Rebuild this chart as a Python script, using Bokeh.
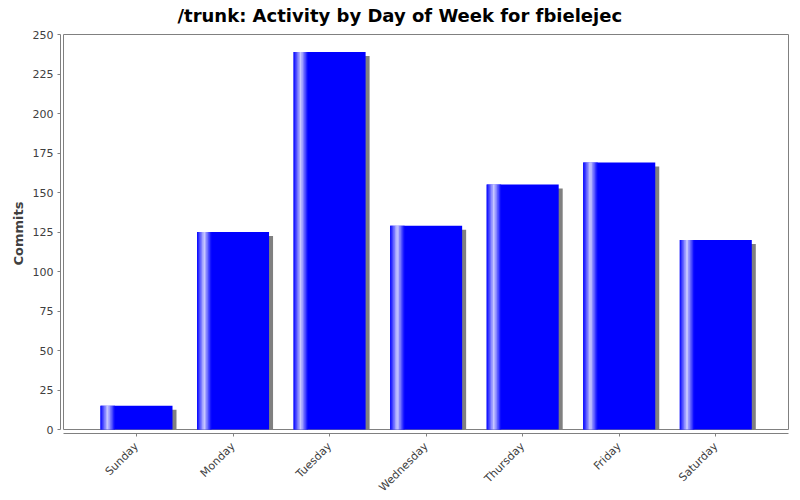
import numpy as np
from bokeh.plotting import figure
from bokeh.models import Range1d, FixedTicker, ColumnDataSource, Title
from bokeh.embed import file_html
from bokeh.resources import INLINE

# ---- data ----
days = ["Sunday", "Monday", "Tuesday", "Wednesday", "Thursday", "Friday", "Saturday"]
commits = [15, 125, 239, 129, 155, 169, 120]
y_ticks = [0, 25, 50, 75, 100, 125, 150, 175, 200, 225, 250]
title_text = "/trunk: Activity by Day of Week for fbielejec"
y_label = "Commits"

# ---- layout (pixels) ----
B_LEFT, B_RIGHT, B_TOP, B_BOTTOM = 60, 3, 33, 58
FRAME_W, FRAME_H = 729, 400
PX_PER_CAT = 96.55
PX_PER_UNIT = 1.58
X_START = -76 / PX_PER_CAT
X_END = X_START + FRAME_W / PX_PER_CAT
Y_START = -4 / PX_PER_UNIT
Y_END = Y_START + FRAME_H / PX_PER_UNIT
INNER_L = X_START + 3 / PX_PER_CAT
INNER_R = X_START + (FRAME_W - 1) / PX_PER_CAT
BAR_W = 72 / PX_PER_CAT
SHADOW_DX = 4 / PX_PER_CAT
SHADOW_DY = 4 / PX_PER_UNIT

GRAY = "#808080"
TEXT = "#404040"
BLUE = "#0000ff"

x = np.arange(len(days), dtype=float)
vals = np.array(commits, dtype=float)

p = figure(frame_width=FRAME_W, frame_height=FRAME_H,
           output_backend="svg", toolbar_location=None,
           x_range=Range1d(X_START, X_END), y_range=Range1d(Y_START, Y_END),
           min_border_left=B_LEFT, min_border_right=B_RIGHT,
           min_border_top=B_TOP, min_border_bottom=B_BOTTOM)
p.outline_line_color = None
p.background_fill_color = "white"
p.border_fill_color = "white"
p.xgrid.visible = False
p.ygrid.visible = False

# spacer between frame and title, then the title itself
spacer = Title(text=" ", text_font_size="6px", standoff=0)
p.add_layout(spacer, "above")
main_title = Title(text=title_text, text_font="DejaVu Sans", text_font_size="18px",
                   text_font_style="bold", text_color="black", align="left",
                   offset=117, standoff=0)
p.add_layout(main_title, "above")

# inner plot outline
p.quad(left=[INNER_L], right=[INNER_R], bottom=[0], top=[y_ticks[-1]],
       fill_color=None, line_color=GRAY, line_width=1)

# shadows
p.quad(left=x - BAR_W / 2 + SHADOW_DX, right=x + BAR_W / 2 + SHADOW_DX,
       bottom=0, top=np.maximum(vals - SHADOW_DY, 0),
       fill_color=GRAY, line_color=None)

# bars
src = ColumnDataSource(dict(x=x, top=vals, day=days))
p.vbar(x="x", top="top", bottom=0, width=BAR_W, source=src,
       fill_color=BLUE, line_color=None)

# gradient highlight (blue -> white -> blue over first 20% of the bar)
n = 10
ls, rs, ts, cs = [], [], [], []
seg = 0.2 * BAR_W / (2 * n)
for i, xi in enumerate(x):
    left0 = xi - BAR_W / 2
    for k in range(2 * n):
        t = (k + 0.5) / n
        f = t if t <= 1 else 2 - t  # whiteness 0..1..0
        f = max(0.0, min(1.0, f))
        c = int(round(255 * f))
        ls.append(left0 + k * seg)
        rs.append(left0 + (k + 1) * seg + seg * 0.05)
        ts.append(vals[i])
        cs.append("#%02x%02x%02x" % (c, c, 255))
p.quad(left=ls, right=rs, bottom=0, top=ts, fill_color=cs, line_color=None)

# axes
xa = p.xaxis[0]
xa.ticker = FixedTicker(ticks=list(x))
xa.major_label_overrides = {float(i): d for i, d in enumerate(days)}
xa.major_label_overrides.update({int(i): d for i, d in enumerate(days)})
xa.major_label_orientation = np.pi / 4
xa.bounds = (INNER_L, INNER_R)
ya = p.yaxis[0]
ya.ticker = FixedTicker(ticks=y_ticks)
ya.bounds = (0, y_ticks[-1])
ya.axis_label = y_label
for ax in (xa, ya):
    ax.axis_line_color = GRAY
    ax.major_tick_line_color = GRAY
    ax.major_tick_in = 0
    ax.major_tick_out = 3
    ax.minor_tick_line_color = None
    ax.major_label_text_font = "DejaVu Sans"
    ax.major_label_text_font_size = "11px"
    ax.major_label_text_color = TEXT
    ax.major_label_standoff = 4
xa.major_label_standoff = 8
ya.axis_label_text_font = "DejaVu Sans"
ya.axis_label_text_font_size = "13px"
ya.axis_label_text_font_style = "bold"
ya.axis_label_text_color = TEXT
ya.axis_label_standoff = 4

open("out.html", "w").write(file_html(p, INLINE))
